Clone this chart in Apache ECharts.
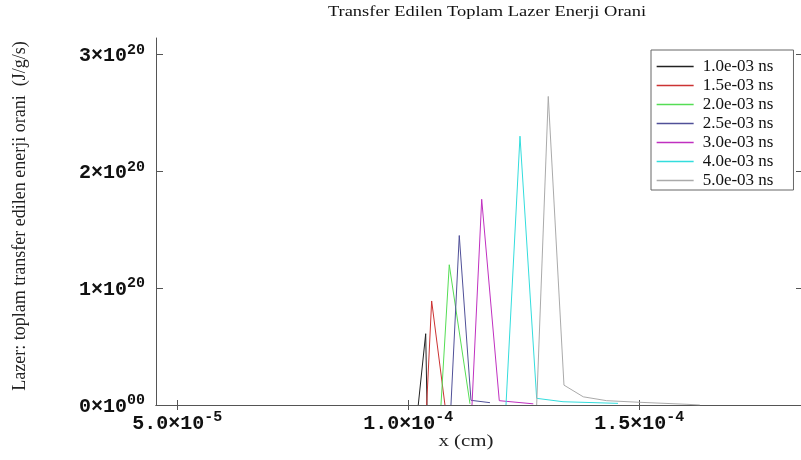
<!DOCTYPE html>
<html>
<head>
<meta charset="utf-8">
<script src="https://cdn.jsdelivr.net/npm/echarts@6/dist/echarts.min.js"></script>
<style>html,body{margin:0;padding:0;background:#fff}#c{width:801px;height:460px}</style>
</head>
<body>
<div id="c"></div>
<script>
const seriesNames = ['1.0e-03 ns','1.5e-03 ns','2.0e-03 ns','2.5e-03 ns','3.0e-03 ns','4.0e-03 ns','5.0e-03 ns'];
const seriesColors = ['#222222','#cc3333','#55dd55','#505098','#c030c0','#33dddd','#aaaaaa'];

const x1 = [1.0216e-4, 1.0377e-4, 1.0405e-4];
const y1 = [0, 0.61e20, 0];
const x2 = [1.0398e-4, 1.0506e-4, 1.0794e-4];
const y2 = [0, 0.89e20, 0];
const x3 = [1.0708e-4, 1.0887e-4, 1.1336e-4];
const y3 = [0, 1.20e20, 0.01e20];
const x4 = [1.0924e-4, 1.1104e-4, 1.1357e-4, 1.1768e-4];
const y4 = [0, 1.45e20, 0.04e20, 0.02e20];
const x5 = [1.1379e-4, 1.1589e-4, 1.1970e-4, 1.2706e-4];
const y5 = [0, 1.76e20, 0.037e20, 0.01e20];
const x6 = [1.2115e-4, 1.2418e-4, 1.2779e-4, 1.3349e-4, 1.4539e-4];
const y6 = [0, 2.30e20, 0.057e20, 0.028e20, 0.014e20];
const x7 = [1.2779e-4, 1.3030e-4, 1.3370e-4, 1.3788e-4, 1.4294e-4, 1.5015e-4, 1.6032e-4, 1.631e-4];
const y7 = [0, 2.64e20, 0.17e20, 0.07e20, 0.037e20, 0.023e20, 0.006e20, 0];

const xTickValues = [5e-5, 1e-4, 1.5e-4];
const xTickLabels = [['5.0×10','-5'], ['1.0×10','-4'], ['1.5×10','-4']];
const yTickValues = [0, 1e20, 2e20, 3e20];
const yTickLabels = [['0×10','00'], ['1×10','20'], ['2×10','20'], ['3×10','20']];

const xMin = 4.54e-5, xMax = 1.85e-4, yMin = 0, yMax = 3.14e20;

const xs = [x1,x2,x3,x4,x5,x6,x7];
const ys = [y1,y2,y3,y4,y5,y6,y7];

function lbl(values, labels) {
  return function (v) {
    for (let i = 0; i < values.length; i++) {
      if (Math.abs(v - values[i]) <= Math.abs(values[i]) * 1e-6 + 1e-30) {
        return '{b|' + labels[i][0] + '}{s|' + labels[i][1] + '}';
      }
    }
    return '';
  };
}
const rich = {
  b: {fontFamily: 'Liberation Mono', fontWeight: 'bold', fontSize: 20, color: '#111', verticalAlign: 'bottom', lineHeight: 24},
  s: {fontFamily: 'Liberation Mono', fontWeight: 'bold', fontSize: 15, color: '#111', verticalAlign: 'top', lineHeight: 14}
};
const axColor = '#555';

const chart = echarts.init(document.getElementById('c'), null, {renderer: 'canvas'});
chart.setOption({
  animation: false,
  backgroundColor: '#fff',
  grid: {left: 156, top: 38, right: 0, bottom: 55, containLabel: false},
  xAxis: [{
    type: 'value', min: xMin, max: xMax, position: 'bottom',
    axisLine: {show: true, onZero: false, lineStyle: {color: axColor, width: 1}},
    axisTick: {show: true, inside: true, length: 5, customValues: xTickValues, lineStyle: {color: axColor}},
    axisLabel: {show: true, customValues: xTickValues, formatter: lbl(xTickValues, xTickLabels), rich: rich, margin: 5},
    splitLine: {show: false}
  }, {
    type: 'value', min: xMin, max: xMax, position: 'top',
    axisLine: {show: true, lineStyle: {color: axColor, width: 1}},
    axisTick: {show: true, inside: true, length: 5, customValues: xTickValues, lineStyle: {color: axColor}},
    axisLabel: {show: false},
    splitLine: {show: false}
  }],
  yAxis: [{
    type: 'value', min: yMin, max: yMax, position: 'left',
    axisLine: {show: true, onZero: false, lineStyle: {color: axColor, width: 1}},
    axisTick: {show: true, inside: true, length: 7, customValues: yTickValues, lineStyle: {color: axColor}},
    axisLabel: {show: true, customValues: yTickValues, formatter: lbl(yTickValues, yTickLabels), rich: rich, margin: 11},
    splitLine: {show: false}
  }, {
    type: 'value', min: yMin, max: yMax, position: 'right',
    axisLine: {show: true, lineStyle: {color: axColor, width: 1}},
    axisTick: {show: true, inside: true, length: 5, customValues: yTickValues, lineStyle: {color: axColor}},
    axisLabel: {show: false},
    splitLine: {show: false}
  }],
  legend: {
    orient: 'vertical', left: 651, top: 50,
    backgroundColor: '#fff', borderColor: '#666', borderWidth: 1,
    padding: [7, 20, 0, 5],
    itemWidth: 37, itemHeight: 13, itemGap: 0,
    itemStyle: {opacity: 0, borderWidth: 0},
    textStyle: {fontFamily: 'Liberation Serif', fontSize: 17, lineHeight: 19, color: '#111', padding: [0,0,0,4]},
    data: seriesNames.map((n, i) => ({name: n, lineStyle: {color: seriesColors[i], width: 1.3}}))
  },
  graphic: [
    {type: 'text', x: 487, y: 5, scaleX: 1.23, style: {text: 'Transfer Edilen Toplam Lazer Enerji Orani', font: '15px "Liberation Serif"', fill: '#111', textAlign: 'center'}},
    {type: 'text', x: 466, y: 433, scaleX: 1.23, style: {text: 'x (cm)', font: '17px "Liberation Serif"', fill: '#222', textAlign: 'center'}},
    {type: 'text', x: 20, y: 216, rotation: Math.PI / 2, style: {text: 'Lazer: toplam transfer edilen enerji orani  (J/g/s)', font: '18px "Liberation Serif"', fill: '#222', textAlign: 'center', textVerticalAlign: 'middle'}}
  ],
  series: seriesNames.map((n, i) => ({
    name: n, type: 'line', symbol: 'none', showSymbol: false,
    color: seriesColors[i],
    lineStyle: {width: 1, color: seriesColors[i]},
    data: xs[i].map((x, j) => [x, ys[i][j]]),
    z: 2 + i
  }))
});
</script>
</body>
</html>
